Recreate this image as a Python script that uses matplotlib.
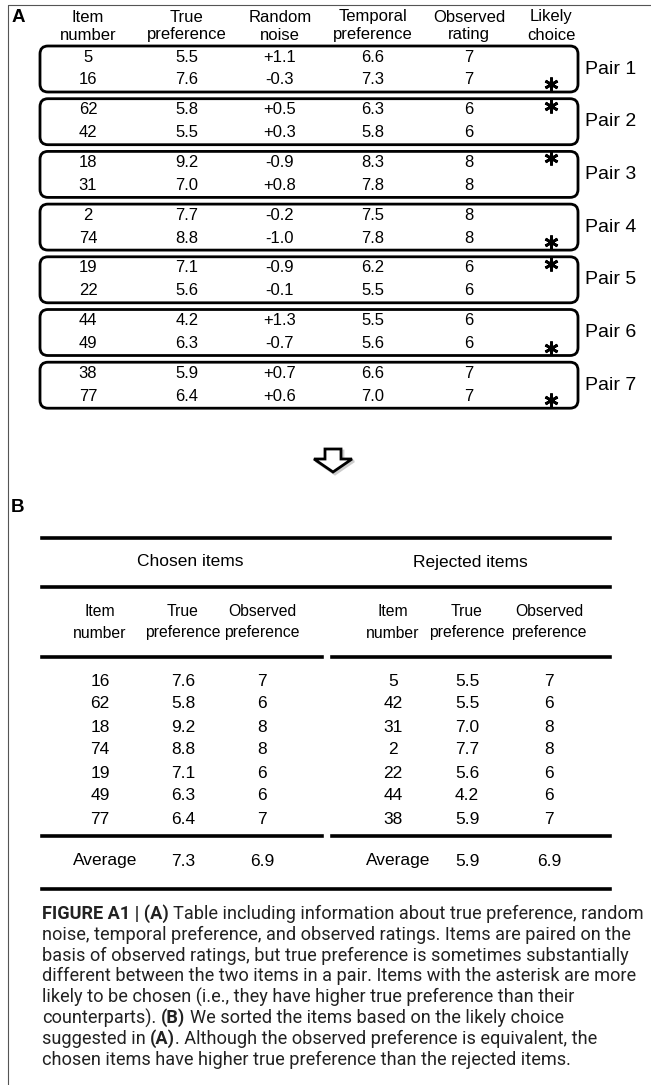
import matplotlib.pyplot as plt
from matplotlib.patches import FancyBboxPatch, Polygon

# ---- data, panel A (one entry per item, two items per pair) ----
items = [5, 16, 62, 42, 18, 31, 2, 74, 19, 22, 44, 49, 38, 77]
true_pref = [5.5, 7.6, 5.8, 5.5, 9.2, 7.0, 7.7, 8.8, 7.1, 5.6, 4.2, 6.3, 5.9, 6.4]
noise = [1.1, -0.3, 0.5, 0.3, -0.9, 0.8, -0.2, -1.0, -0.9, -0.1, 1.3, -0.7, 0.7, 0.6]
temporal = [6.6, 7.3, 6.3, 5.8, 8.3, 7.8, 7.5, 7.8, 6.2, 5.5, 5.5, 5.6, 6.6, 7.0]
observed = [7, 7, 6, 6, 8, 8, 8, 8, 6, 6, 6, 6, 7, 7]
likely = [0, 1, 1, 0, 1, 0, 0, 1, 1, 0, 0, 1, 0, 1]

headers_a = [("Item", "number"), ("True", "preference"), ("Random", "noise"),
             ("Temporal", "preference"), ("Observed", "rating"), ("Likely", "choice")]

# ---- panel B ----
groups_b = ["Chosen items", "Rejected items"]
headers_b = [("Item", "number"), ("True", "preference"), ("Observed", "preference")]

caption = [
    [("FIGURE A1 | (A)", True), (" Table including information about true preference, random", False)],
    [("noise, temporal preference, and observed ratings. Items are paired on the", False)],
    [("basis of observed ratings, but true preference is sometimes substantially", False)],
    [("different between the two items in a pair. Items with the asterisk are more", False)],
    [("likely to be chosen (i.e., they have higher true preference than their", False)],
    [("counterparts). ", False), ("(B)", True), (" We sorted the items based on the likely choice", False)],
    [("suggested in ", False), ("(A)", True), (". Although the observed preference is equivalent, the", False)],
    [("chosen items have higher true preference than the rejected items.", False)],
]

plt.rcParams['font.family'] = ['Liberation Sans', 'DejaVu Sans']

fig = plt.figure(figsize=(6.51, 10.85), dpi=100)
ax = fig.add_axes([0, 0, 1, 1])
ax.set_xlim(0, 651)
ax.set_ylim(1085, 0)
ax.axis('off')

fs = 12
# outer frame (left and top edges)
ax.plot([8, 8, 651], [1085, 5, 5], color='#555555', lw=0.8)

# ---------------- panel A ----------------
ax.text(18, 18, "A", fontsize=13.5, fontweight='bold', ha='center', va='center')
cols_a = [88, 187, 280, 373, 469, 551]
for x, (h1, h2) in zip(cols_a, headers_a):
    ax.text(x, 17, h1, fontsize=fs, ha='center', va='center')
    ax.text(x, 35, h2, fontsize=fs, ha='center', va='center')

pair_top0, pair_step, row_step = 46, 52.7, 23
star_x, star_y = [], []
for i in range(len(items)):
    p, r = divmod(i, 2)
    y = pair_top0 + pair_step * p + 11 + row_step * r
    vals = [str(items[i]), f"{true_pref[i]:.1f}", f"{noise[i]:+.1f}",
            f"{temporal[i]:.1f}", str(observed[i])]
    for x, v in zip(cols_a, vals):
        ax.text(x, y, v, fontsize=fs, ha='center', va='center')
    if likely[i]:
        star_x.append(cols_a[5])
        star_y.append(y + (4 if r else -4))

ax.plot(star_x, star_y, linestyle='none', marker=(6, 2, 0), markersize=10,
        markeredgewidth=2.0, color='black')

for p in range(len(items) // 2):
    top = pair_top0 + pair_step * p
    box = FancyBboxPatch((40, top), 538, 46, boxstyle="round,pad=0,rounding_size=8",
                         fill=False, lw=2.0, ec='black')
    ax.add_patch(box)
    ax.text(585, top + 23, f"Pair {p + 1}", fontsize=14, ha='left', va='center')

# arrow with a soft grey shadow
cx = 333
arrow_pts = [(cx - 8, 449), (cx + 8, 449), (cx + 8, 459), (cx + 19, 459),
             (cx, 472), (cx - 19, 459), (cx - 8, 459)]
shadow = Polygon([(x + 2, y + 2) for x, y in arrow_pts], closed=True,
                 fc='#cccccc', ec='#cccccc', lw=2.0)
ax.add_patch(shadow)
arrow = Polygon(arrow_pts, closed=True, fc='white', ec='black', lw=2.0, joinstyle='miter')
ax.add_patch(arrow)

# ---------------- panel B ----------------
ax.text(18, 508, "B", fontsize=13.5, fontweight='bold', ha='center', va='center')
chosen = [i for i in range(len(items)) if likely[i]]
rejected = [i for i in range(len(items)) if not likely[i]]

fs_b = 12.5
lw_b = 2.6
ax.plot([42, 610], [538, 538], color='black', lw=lw_b)
ax.plot([42, 610], [587, 587], color='black', lw=lw_b)
ax.plot([42, 610], [889, 889], color='black', lw=lw_b)
for y in (657, 836):
    ax.plot([42, 322], [y, y], color='black', lw=lw_b)
    ax.plot([332, 610], [y, y], color='black', lw=lw_b)

cols_b = [[100, 183, 262], [393, 467, 549]]
group_x = [190, 470]
for g, idx in enumerate([chosen, rejected]):
    ax.text(group_x[g], 562, groups_b[g], fontsize=fs_b, ha='center', va='center')
    for x, (h1, h2) in zip(cols_b[g], headers_b):
        ax.text(x, 611, h1, fontsize=11.3, ha='center', va='center')
        ax.text(x, 633, h2, fontsize=11.3, ha='center', va='center')
    for k, i in enumerate(idx):
        y = 681 + 23 * k
        vals = [str(items[i]), f"{true_pref[i]:.1f}", str(observed[i])]
        for x, v in zip(cols_b[g], vals):
            ax.text(x, y, v, fontsize=fs_b, ha='center', va='center')
    avg_true = sum(true_pref[i] for i in idx) / len(idx)
    avg_obs = sum(observed[i] for i in idx) / len(idx)
    ax.text(cols_b[g][0] + 5, 861, "Average", fontsize=fs_b, ha='center', va='center')
    ax.text(cols_b[g][1], 861, f"{avg_true:.1f}", fontsize=fs_b, ha='center', va='center')
    ax.text(cols_b[g][2], 861, f"{avg_obs:.1f}", fontsize=fs_b, ha='center', va='center')

# ---------------- caption ----------------
cap_family = ['Roboto', 'Liberation Sans', 'DejaVu Sans']
renderer = fig.canvas.get_renderer()


def text_width(s, size, bold):
    t = ax.text(0, 0, s, fontsize=size, family=cap_family,
                fontweight='bold' if bold else 'normal')
    w = t.get_window_extent(renderer).width
    t.remove()
    return w


def line_width(runs, size):
    sp = text_width("n n", size, False) - text_width("nn", size, False)
    w = 0
    for txt, bold in runs:
        w += sp * (len(txt) - len(txt.strip(' ')))
        w += text_width(txt.strip(' '), size, bold)
    return w


# scale the caption font so the widest line spans the same width as the original
base = 12
widest = max(line_width(runs, base) for runs in caption)
cap_size = base * 598 / widest
space_w = text_width("n n", cap_size, False) - text_width("nn", cap_size, False)

for li, runs in enumerate(caption):
    x = 42
    y = 914 + 20.8 * li
    for txt, bold in runs:
        x += space_w * (len(txt) - len(txt.lstrip(' ')))
        core = txt.strip(' ')
        t = ax.text(x, y, core, fontsize=cap_size, family=cap_family, color='#222222',
                    fontweight='bold' if bold else 'normal', ha='left', va='center')
        x += t.get_window_extent(renderer).width
        x += space_w * (len(txt) - len(txt.rstrip(' ')))

fig.savefig("out.png", dpi=100, facecolor='white')
